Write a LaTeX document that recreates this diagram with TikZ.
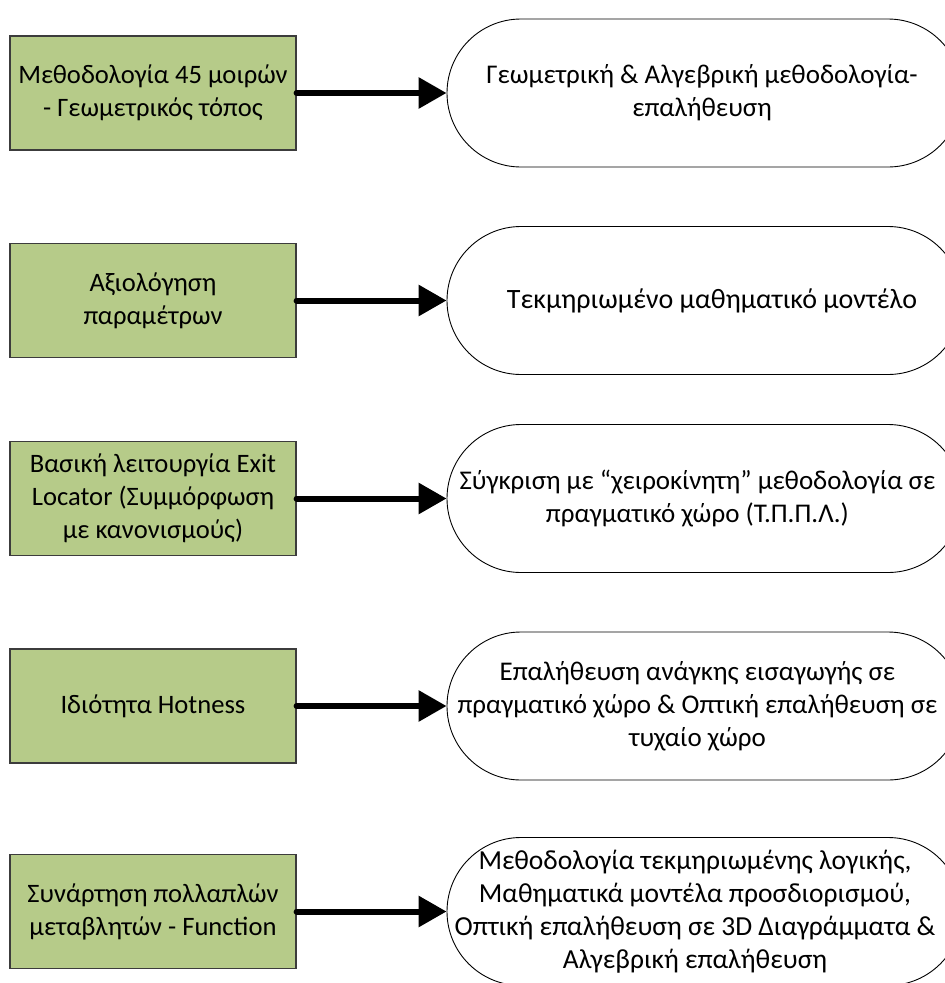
\documentclass[tikz,border=0pt]{standalone}
\usepackage{fontspec}
\setmainfont{Carlito}
\usetikzlibrary{arrows.meta}
\definecolor{boxgreen}{RGB}{182,203,137}
\definecolor{boxedge}{RGB}{60,60,60}
\begin{document}
\begin{tikzpicture}[x=1pt,y=-1pt,
  greenbox/.style={rectangle, draw=boxedge, line width=1.2pt, fill=boxgreen,
    minimum width=286pt, minimum height=114pt, inner sep=2pt, align=center,
    font=\fontsize{26.6}{33}\selectfont},
  resultbox/.style={rectangle, draw=black, line width=0.9pt, fill=white,
    rounded corners=74pt, minimum width=515pt, minimum height=148pt,
    inner sep=0pt},
  resulttext/.style={inner sep=0pt, align=center, font=\fontsize{27}{33}\selectfont},
  conn/.style={line width=6pt, line cap=round,
    -{Triangle[length=28pt,width=30pt]}}]
  \useasboundingbox (0,0) rectangle (945,983);
  \clip (0,0) rectangle (945,983);

  % left column: topics
  \node[greenbox] (g1) at (153,93)  {Μεθοδολογία 45 μοιρών\\- Γεωμετρικός τόπος};
  \node[greenbox] (g2) at (153,300.5) {Αξιολόγηση\\παραμέτρων};
  \node[greenbox] (g3) at (153,498.5) {Βασική λειτουργία Exit\\Locator (Συμμόρφωση\\με κανονισμούς)};
  \node[greenbox] (g4) at (153,706) {Ιδιότητα Hotness};
  \node[greenbox] (g5) at (153,911.5) {Συνάρτηση πολλαπλών\\μεταβλητών - Function};

  % right column: outcome outlines
  \node[resultbox] (r1) at (704.5,93) {};
  \node[resultbox] (r2) at (704.5,300.5) {};
  \node[resultbox] (r3) at (704.5,498.5) {};
  \node[resultbox] (r4) at (704.5,706) {};
  \node[resultbox] (r5) at (704.5,911.5) {};

  % right column: outcome texts
  \node[resulttext] (t1) at ([xshift=-2.5pt]r1.center) {Γεωμετρική \& Αλγεβρική μεθοδολογία-\\επαλήθευση};
  \node[resulttext, font=\fontsize{28}{33}\selectfont] (t2) at ([xshift=7.5pt]r2.center) {Τεκμηριωμένο μαθηματικό μοντέλο};
  \node[resulttext] (t3) at ([xshift=-7pt]r3.center) {Σύγκριση με “χειροκίνητη” μεθοδολογία σε\\πραγματικό χώρο (Τ.Π.Π.Λ.)};
  \node[resulttext] (t4) at ([xshift=-7pt]r4.center) {Επαλήθευση ανάγκης εισαγωγής σε\\πραγματικό χώρο \& Οπτική επαλήθευση σε\\τυχαίο χώρο};
  \node[resulttext, font=\fontsize{27.5}{33}\selectfont] (t5) at ([xshift=-9.5pt]r5.center) {Μεθοδολογία τεκμηριωμένης λογικής,\\Μαθηματικά μοντέλα προσδιορισμού,\\Οπτική επαλήθευση σε 3D Διαγράμματα \&\\Αλγεβρική επαλήθευση};

  % connectors
  \foreach \i in {1,...,5}
    \draw[conn] (g\i.east) -- (r\i.west);
\end{tikzpicture}
\end{document}
